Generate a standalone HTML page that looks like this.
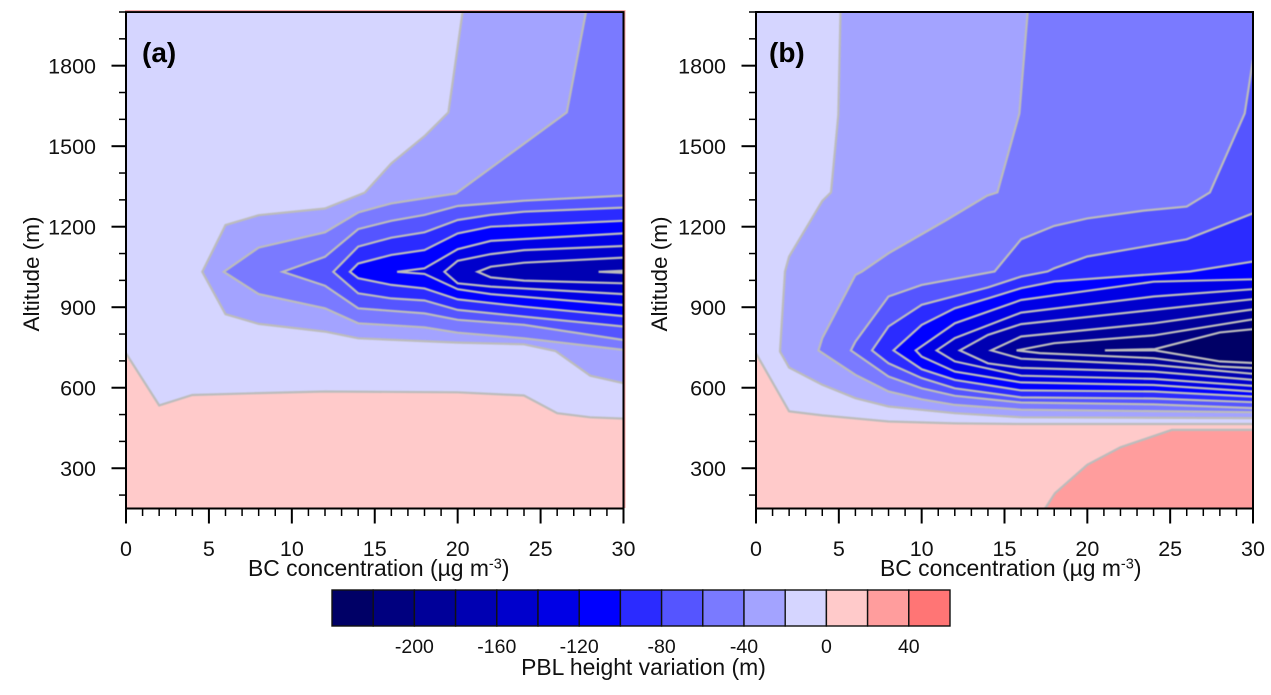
<!DOCTYPE html>
<html lang="en">
<head>
<meta charset="utf-8">
<title>PBL height variation vs BC concentration</title>
<style>
html,body{margin:0;padding:0;background:#fff;}
svg{display:block;font-family:"Liberation Sans",Arial,sans-serif;fill:#111;}
</style>
</head>
<body>
<svg id="figure" width="1271" height="695" viewBox="0 0 1271 695" xmlns="http://www.w3.org/2000/svg">
  <defs>
    <clipPath id="clip-a"><rect x="126" y="12" width="497.5" height="496.5"/></clipPath>
    <clipPath id="clip-b"><rect x="756" y="12" width="497" height="496.5"/></clipPath>
  </defs>
  <g id="panel-a"></g>
  <g id="panel-b"></g>
  <text x="142" y="62" font-size="28" font-weight="bold" fill="#000">(a)</text>
  <text x="769" y="62" font-size="28" font-weight="bold" fill="#000">(b)</text>
  <text transform="translate(39,274) rotate(-90)" text-anchor="middle" font-size="22.5">Altitude (m)</text>
  <text transform="translate(667,274) rotate(-90)" text-anchor="middle" font-size="22.5">Altitude (m)</text>
  <text x="248" y="576" font-size="22.9">BC concentration (µg m<tspan dy="-7.5" font-size="14.5">-3</tspan><tspan dy="7.5">)</tspan></text>
  <text x="880" y="576" font-size="22.9">BC concentration (µg m<tspan dy="-7.5" font-size="14.5">-3</tspan><tspan dy="7.5">)</tspan></text>
  <g id="colorbar"></g>
  <text x="643.5" y="675" text-anchor="middle" font-size="22.9">PBL height variation (m)</text>
</svg>
<script>
// Colour scale: boundaries in metres and the box colours (lowest to highest).
const colorbarBoundaries = [-240,-220,-200,-180,-160,-140,-120,-100,-80,-60,-40,-20,0,20,40,60];
const colorbarColors = ['#000066','#00007f','#000099','#0000b2','#0000cc','#0000e5','#0000ff','#2b2bff','#5555ff','#7a7aff','#a3a3ff','#d5d5ff','#ffcaca','#ff9d9d','#ff7575'];
const colorbarTickValues = [-200,-160,-120,-80,-40,0,40];

// Axis ticks.
const xTickValues = [0,5,10,15,20,25,30];
const yTickValues = [300,600,900,1200,1500,1800];

// Panel (a) contours: level (m), then [BC concentration, altitude] vertices.
const panelALevels = [0,-20,-40,-60,-80,-100,-120,-140,-160,-180];
const panelAContour0 = [[0,728],[2,534],[4,573],[8,580],[12,586],[20,583],[24,571],[26,505],[28,490],[30,485]];
const panelAContour20n = [[20.3,2000],[19.44,1626],[18.03,1539],[16,1436],[14.4,1327],[12,1268],[8,1243],[6,1206],[4.6,1032],[6,874],[8,838],[12,809],[14,784],[20,768],[24,762],[25.9,737],[28,645],[30,617]];
const panelAContour40n = [[27.74,2000],[26.58,1626],[19.9,1324],[16,1287],[14,1253],[12,1179],[8,1122],[5.9,1032],[8,949],[12,896],[14,840],[18,825],[20,805],[24,784],[30,741]];
const panelAContour60n = [[30,1316],[24,1297],[20,1277],[18,1244],[16,1222],[14,1191],[12,1088],[9.45,1032],[12,980],[14,896],[18,877],[20,853],[24,834],[30,778]];
const panelAContour80n = [[30,1271],[24,1256],[22,1244],[20,1225],[18,1179],[16,1159],[14,1126],[12.5,1032],[14,952],[16,933],[18,925],[20,890],[24,865],[30,828]];
const panelAContour100n = [[30,1222],[22,1200],[20,1175],[18,1113],[16,1095],[14,1063],[13.5,1032],[14,1008],[16,983],[18,970],[20,929],[24,902],[30,867]];
const panelAContour120n = [[30,1175],[22,1147],[20,1116],[18,1045],[16.35,1032],[18,1024],[20,967],[22,949],[30,908]];
const panelAContour140n = [[30,1128],[24,1113],[22,1098],[20,1073],[19.2,1032],[20,989],[22,977],[30,949]];
const panelAContour160n = [[30,1085],[24,1066],[22,1051],[21.2,1032],[22,1011],[24,999],[30,989]];
const panelAContour180n = [[30,1036],[28.5,1032],[30,1028]];

// Panel (b) contours.
const panelBLevels = [0,20,-20,-40,-60,-80,-100,-120,-140,-160,-180,-200,-220];
const panelBContour0 = [[0,728],[2,512],[4,497],[8,474],[12,467],[16,465],[30,465]];
const panelBContour20 = [[17.45,150],[18.05,207],[20,313],[22,378],[25.1,443],[30,443]];
const panelBContour20n = [[5.1,2000],[4.97,1616],[4.53,1328],[4,1296],[2,1089],[1.75,1033],[1.45,735],[2,675],[4,611],[6,561],[8,530],[12,505],[16,490],[30,487]];
const panelBContour40n = [[16.4,2000],[15.9,1622],[14.57,1328],[13.96,1316],[11.5,1225],[8,1101],[6.4,1033],[6,1020],[4,785],[3.77,739],[6,648],[8,586],[10,557],[12,536],[16,518],[30,509]];
const panelBContour60n = [[30,1821],[29.5,1622],[27.4,1328],[26,1275],[23.4,1260],[20,1231],[18,1203],[16,1153],[14.4,1033],[10,983],[8,940],[6,772],[5.73,739],[8,642],[10,598],[12,570],[16,545],[24,538],[30,524]];
const panelBContour80n = [[30,1250],[26,1153],[20,1089],[18,1045],[17.6,1033],[16,1014],[14,974],[10,909],[8,828],[7,739],[8,691],[10,636],[12,598],[16,564],[24,560],[30,546]];
const panelBContour100n = [[30,1070],[26.2,1033],[18,996],[16,971],[14,933],[12,896],[10,834],[8.3,739],[10,669],[12,629],[16,590],[24,586],[30,567]];
const panelBContour120n = [[30,1004],[24,995],[16,927],[12,840],[9.64,739],[10,716],[12,660],[16,620],[24,610],[30,586]];
const panelBContour140n = [[30,967],[24,940],[16,880],[12,785],[10.9,739],[12,698],[16,645],[24,633],[30,607]];
const panelBContour160n = [[30,930],[24,890],[16,837],[14,797],[12.3,739],[14,691],[16,674],[24,660],[30,629]];
const panelBContour180n = [[30,892],[24,840],[16,791],[14.2,739],[16,708],[24,685],[30,652]];
const panelBContour200n = [[30,855],[24,795],[18,766],[15.73,739],[17.14,729],[24,710],[28,679],[30,673]];
const panelBContour220n = [[30,818],[28,806],[24.08,744],[21.06,739],[24.08,739],[28,698],[30,692]];

const panelAContours = [panelAContour0,panelAContour20n,panelAContour40n,panelAContour60n,panelAContour80n,panelAContour100n,panelAContour120n,panelAContour140n,panelAContour160n,panelAContour180n];
const panelBContours = [panelBContour0,panelBContour20,panelBContour20n,panelBContour40n,panelBContour60n,panelBContour80n,panelBContour100n,panelBContour120n,panelBContour140n,panelBContour160n,panelBContour180n,panelBContour200n,panelBContour220n];

const NS = 'http://www.w3.org/2000/svg';
const X_MIN = 0, X_MAX = 30, Y_MIN = 150, Y_MAX = 2000;
const PLOT_TOP = 12, PLOT_BOTTOM = 508.5;
const FILL_BACKGROUND = colorbarColors[11];

function make(tag, parent, attrs) {
  const el = document.createElementNS(NS, tag);
  for (const k in attrs) el.setAttribute(k, attrs[k]);
  parent.appendChild(el);
  return el;
}
function yScale(alt) {
  return PLOT_BOTTOM - (alt - Y_MIN) / (Y_MAX - Y_MIN) * (PLOT_BOTTOM - PLOT_TOP);
}
function xScaleFor(left, right) {
  return function (v) { return left + (v - X_MIN) / (X_MAX - X_MIN) * (right - left); };
}
// Colour of the region enclosed by a contour.
function regionColor(level) {
  const low = level >= 0 ? level : level - 20;
  return colorbarColors[colorbarBoundaries.indexOf(low)];
}
function pointsString(points, xScale) {
  return points.map(function (p) { return xScale(p[0]).toFixed(1) + ',' + yScale(p[1]).toFixed(1); }).join(' ');
}
function closedRegion(points, level) {
  const out = points.slice();
  const first = points[0];
  if (level >= 0) {
    out.push([X_MAX, Y_MIN]);
    if (first[0] === X_MIN) out.push([X_MIN, Y_MIN]);
  } else if (first[1] === Y_MAX) {
    out.push([X_MAX, Y_MAX]);
  }
  return out;
}

function drawPanel(root, clipId, left, right, levels, contours, side) {
  const xScale = xScaleFor(left, right);
  const clipper = make('g', root, { 'clip-path': 'url(#' + clipId + ')' });
  const plot = make('g', clipper, { style: 'filter:blur(0.4px)' });
  
  

  const bg = make('rect', plot, { x: left - 3, y: PLOT_TOP - 3, width: right - left + 6, height: PLOT_BOTTOM - PLOT_TOP + 6, fill: FILL_BACKGROUND });
  
  

  contours.forEach(function (points, i) {
    const level = levels[i];
    const region = make('polygon', plot, { points: pointsString(closedRegion(points, level), xScale), fill: regionColor(level), stroke: regionColor(level), 'stroke-width': 0.5 });
    
    
  });
  contours.forEach(function (points, i) {
    const level = levels[i];
    const line = make('polyline', plot, { points: pointsString(points, xScale), fill: 'none', stroke: '#bcbcbc', 'stroke-width': 2.2, 'stroke-linejoin': 'miter' });
    
    
  });

  const axes = make('g', root, { stroke: '#000', fill: 'none' });
  
  

  for (let v = X_MIN; v <= X_MAX; v += 1) {
    const major = xTickValues.indexOf(v) >= 0;
    const px = xScale(v);
    const tick = make('line', axes, { x1: px, x2: px, y1: PLOT_BOTTOM, y2: PLOT_BOTTOM + (major ? 15 : 7.5), 'stroke-width': major ? 2 : 1.5 });
    
    
  }
  for (let a = 200; a <= Y_MAX; a += 100) {
    const major = yTickValues.indexOf(a) >= 0;
    const py = yScale(a);
    const tick = make('line', axes, { x1: left, x2: left - (major ? 14.5 : 7), y1: py, y2: py, 'stroke-width': major ? 2 : 1.5 });
    
    
  }
  const frame = make('rect', axes, { x: left, y: PLOT_TOP, width: right - left, height: PLOT_BOTTOM - PLOT_TOP, 'stroke-width': 2 });
  
  

  xTickValues.forEach(function (v) {
    const t = make('text', root, { x: xScale(v), y: 556, 'text-anchor': 'middle', 'font-size': 21.5 });
    
    
    t.textContent = String(v);
  });
  yTickValues.forEach(function (a) {
    const t = make('text', root, { x: left - 30, y: yScale(a) + 7.7, 'text-anchor': 'end', 'font-size': 21.5 });
    
    
    t.textContent = String(a);
  });
}

drawPanel(document.getElementById('panel-a'), 'clip-a', 126, 623.5, panelALevels, panelAContours, 'a');
drawPanel(document.getElementById('panel-b'), 'clip-b', 756, 1253, panelBLevels, panelBContours, 'b');

// Thin positive band along the top and right of panel (a).
const edgeBand = make('polyline', document.getElementById('panel-a'), { points: '125,10.6 625,10.6 625,508', fill: 'none', stroke: '#f3a0a0', 'stroke-width': 1 });



// Colorbar.
const cbRoot = document.getElementById('colorbar');
const CB_LEFT = 332, CB_RIGHT = 950, CB_TOP = 590, CB_BOTTOM = 626;
function cbScale(v) {
  const lo = colorbarBoundaries[0], hi = colorbarBoundaries[colorbarBoundaries.length - 1];
  return CB_LEFT + (v - lo) / (hi - lo) * (CB_RIGHT - CB_LEFT);
}
colorbarColors.forEach(function (c, i) {
  const x0 = cbScale(colorbarBoundaries[i]), x1 = cbScale(colorbarBoundaries[i + 1]);
  const box = make('rect', cbRoot, { x: x0, y: CB_TOP, width: x1 - x0, height: CB_BOTTOM - CB_TOP, fill: c, stroke: '#111', 'stroke-width': 1.4 });
  
  
});
colorbarTickValues.forEach(function (v) {
  const t = make('text', cbRoot, { x: cbScale(v), y: 653, 'text-anchor': 'middle', 'font-size': 19.5 });
  
  
  t.textContent = String(v);
});
</script>
</body>
</html>
